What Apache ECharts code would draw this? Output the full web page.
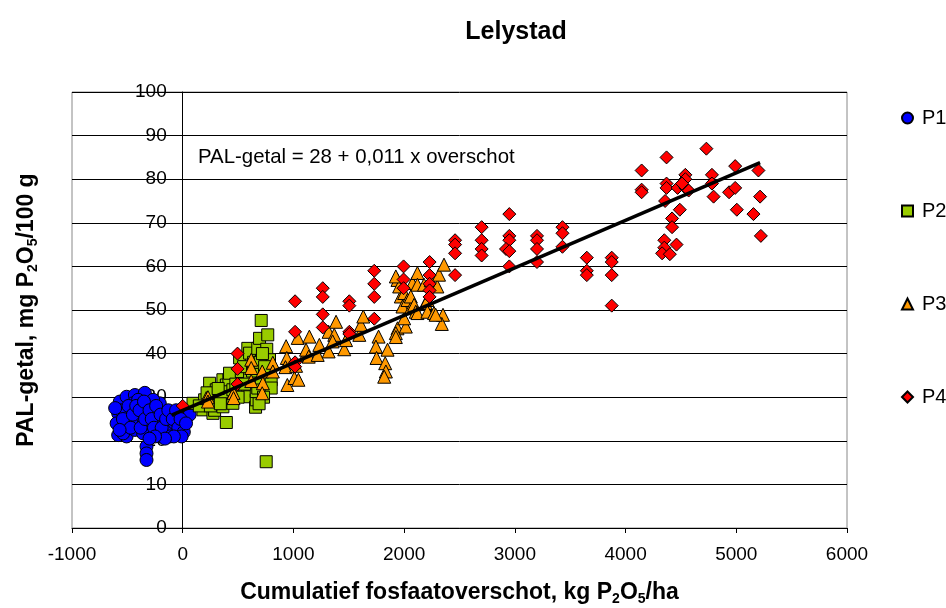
<!DOCTYPE html>
<html><head><meta charset="utf-8">
<script src="https://cdn.jsdelivr.net/npm/echarts@6/dist/echarts.min.js"></script>
<style>html,body{margin:0;padding:0;background:#fff}#c{width:946px;height:608px}</style>
</head><body><div id="c"></div>
<script>
const chartTitle = 'Lelystad';
const seriesNames = ['P1', 'P2', 'P3', 'P4'];
const equationText = 'PAL-getal = 28 + 0,011 x overschot';
const xRange = [-1000, 6000];
const yRange = [0, 100];

const p1Points = [
  [-568,29],[-507,30.1],[-432,30.5],[-448,28.6],[-583,26.3],[-597,24],[-583,21.3],[-507,21],[-522,23.6],[-477,25.5],
  [-417,26.7],[-403,24],[-432,22.5],[-342,31],[-313,28.2],[-327,26.3],[-297,24],[-358,21.7],[-327,18.7],[-327,17.1],
  [-327,15.6],[-252,26.7],[-222,24.8],[-237,22.5],[-177,24],[-162,26.3],[-207,28.6],[-102,22.9],[-72,24],[-57,21.3],
  [-117,21],[18,24.8],[3,26.3],[-267,29.4],[-403,29.4],[-538,21.7],[-27,22.9],[-117,25.5],[-372,24.8],[-462,24],
  [-207,21],[48,26.3],[63,26],[-560,27],[-540,25],[-490,28],[-470,23],[-450,26],[-420,28],[-390,27],
  [-380,23],[-350,29],[-340,25],[-300,27],[-280,25],[-260,23],[-240,28],[-200,26],[-190,23],[-150,25],
  [-130,27],[-90,25],[-60,27],[-40,23],[-20,25],[10,22],[30,24],[-10,21],[-80,21],[-160,20.5],
  [-250,21],[-300,20.5],[-570,22.5],[-610,27.5]
];
const p2Points = [
  [93,28.6],[183,27.1],[198,29.4],[243,33.2],[273,30.9],[273,26.3],[303,31.7],[288,27],[333,29.8],[363,30.1],
  [363,27.8],[363,34],[394,32.8],[394,24.2],[417,34],[423,35.5],[453,31.7],[453,28.6],[514,39],[529,35.9],
  [588,41.2],[588,32.1],[604,30.1],[604,34.4],[604,40.1],[658,27.7],[664,29.4],[664,31.3],[678,32.1],[678,41.2],
  [694,43.5],[709,34.4],[709,47.6],[759,41],[768,44.3],[768,36.3],[784,38.6],[799,34],[799,32.1],[754,15.2],
  [150,28],[220,31],[250,28],[320,32],[340,28.5],[480,33],[500,30],[550,37],[560,33],[630,36],
  [640,38],[700,38],[720,40],[740,37],[730,30],[690,28.5]
];
const p3Points = [
  [213,29.8],[228,30],[228,29],[459,31],[459,29.8],
  [619,38.6],[619,36.7],[619,33.7],[718,35.9],[724,33.2],[718,30.9],
  [814,37.9],[814,35.9],
  [934,41.7],[940,39],[928,36.9],[945,32.8],[1024,37.2],[1009,34.4],[1039,43.6],[1045,34],
  [1108,39.7],[1114,40.9],[1138,39.3],[1144,43.9],[1219,39.7],[1234,42],[1318,40.5],[1318,45],[1369,44.3],[1385,47.3],[1354,42.8],[1459,41],[1475,43.1],
  [1595,44.3],[1610,46.6],[1631,48.5],
  [1769,43.9],[1745,41.6],[1850,40.9],[1751,39],[1829,37.8],[1835,35.9],[1820,34.7],
  [1940,45.8],[1925,44.7],[1925,43.8],[2015,46.2],[2000,48.1],[2015,51.6],[1970,53.1],[1940,56.9],[1955,55.4],[1925,57.7],[2000,53.9],[1985,50.8],[2030,52.3],[2060,50.4],
  [2060,53.1],[2075,56.2],[2120,58.5],[2090,51.2],[2105,49.6],[2120,55.8],[2120,49.3],
  [2180,55.8],[2195,51.6],[2210,49.6],[2210,52.3],[2240,56.8],[2270,49.3],[2300,55.4],[2315,58.1],[2360,60.4],[2351,48.9],[2340,46.8],[2285,48.9]
];
const p4Points = [
  [0,28],[495,40],[495,36.5],[495,33],
  [1015,52],[1015,45],[1015,38],[1015,37],
  [1265,55],[1265,53],[1265,49],[1265,46],
  [1505,52],[1505,51],[1505,45],[1505,44.5],
  [1730,59],[1730,56],[1730,53],[1730,48],
  [1995,60],[1995,57],[1995,55],
  [2230,61],[2230,58],[2230,56],[2230,54.5],[2230,53],
  [2460,66],[2460,65],[2460,63],[2460,58],
  [2700,69],[2700,66],[2700,64],[2700,62.5],
  [2950,72],[2950,67],[2950,66],[2920,64],[2950,63.5],[2950,60],
  [3200,67],[3200,66],[3200,64],[3200,61],
  [3430,69],[3430,67.6],[3430,64.5],
  [3650,62],[3650,59],[3650,58],
  [3875,62],[3875,61],[3875,58],[3875,51],
  [4145,82],[4145,77.6],[4145,77],
  [4370,85],[4370,79],[4370,78],[4357,75],[4420,71],[4420,69],[4350,66],[4350,64.3],[4330,63],[4400,62.8],[4460,65],[4490,73],[4470,78],[4540,81],[4540,80],[4540,78],[4510,79],[4570,77.4],
  [4730,87],[4780,81],[4780,79],[4795,76],[4935,77],[4990,83],[4990,78],[5005,73],[5155,72],[5200,82],[5215,76],[5222,67]
];
const trendPoints = [[-100,25.9],[5215,83.8]];

const FONT = "'Liberation Sans', Arial, sans-serif";
const GRID = {left:72, right:99, top:92, bottom:80};
const plotW = 946 - GRID.left - GRID.right;
const zeroOffset = -plotW * (0 - xRange[0]) / (xRange[1] - xRange[0]);

const chart = echarts.init(document.getElementById('c'), null, {renderer:'canvas'});

function scatter(name, data, symbol, size, color) {
  return {
    name, type:'scatter', data, symbol, symbolSize:size,
    itemStyle:{color, borderColor:'#000', borderWidth:1, opacity:1},
    emphasis:{disabled:true}, z:3
  };
}
const nameRich = {
  b:{fontFamily:FONT, fontSize:23, fontWeight:'bold', color:'#000', lineHeight:26, verticalAlign:'middle'},
  s:{fontFamily:FONT, fontSize:14, fontWeight:'bold', color:'#000', lineHeight:14, verticalAlign:'bottom'}
};

const option = {
  animation:false,
  backgroundColor:'#fff',
  textStyle:{fontFamily:FONT},
  title:{text:chartTitle, left:511, top:15, textAlign:'center',
    textStyle:{fontFamily:FONT, fontSize:25, fontWeight:'bold', color:'#000'}},
  grid:{left:GRID.left, right:GRID.right, top:GRID.top, bottom:GRID.bottom, show:true,
    borderColor:'#888', borderWidth:1, backgroundColor:'transparent',
    containLabel:false, outerBoundsMode:'none'},
  legend:{
    orient:'vertical', left:896, top:103, itemGap:73, itemWidth:11, itemHeight:11,
    data:seriesNames,
    textStyle:{fontFamily:FONT, fontSize:20, lineHeight:20, color:'#000', padding:[0,0,0,4]}, selectedMode:false
  },
  xAxis:{
    type:'value', min:xRange[0], max:xRange[1], interval:1000,
    axisLine:{show:true, onZero:false, lineStyle:{color:'#000', width:1}},
    axisTick:{show:true, length:5, lineStyle:{color:'#000'}},
    axisLabel:{fontFamily:FONT, fontSize:19, color:'#000', margin:17, formatter:v => String(v)},
    splitLine:{show:false},
    name:'{b|Cumulatief fosfaatoverschot, kg P}{s|2}{b|O}{s|5}{b|/ha}',
    nameLocation:'middle', nameGap:52,
    nameTextStyle:{rich:nameRich}
  },
  yAxis:{
    type:'value', min:yRange[0], max:yRange[1], interval:10, offset:zeroOffset,
    axisLine:{show:true, onZero:false, lineStyle:{color:'#000', width:1}},
    axisTick:{show:true, length:5, lineStyle:{color:'#000'}},
    axisLabel:{fontFamily:FONT, fontSize:19, color:'#000', margin:16, formatter:v => String(v)},
    splitLine:{show:true, lineStyle:{color:'#000', width:1}},
    name:'{b|PAL-getal, mg P}{s|2}{b|O}{s|5}{b|/100 g}',
    nameLocation:'middle', nameRotate:90, nameGap:143,
    nameTextStyle:{rich:nameRich}
  },
  graphic:[
    {type:'text', left:198, top:147, style:{text:equationText, font:"20.4px 'Liberation Sans', Arial, sans-serif", fill:'#000'}, z:10}
  ],
  series:[
    scatter('P1', p1Points, 'circle', 13, '#0000FF'),
    scatter('P2', p2Points, 'rect', 12, '#99CC00'),
    scatter('P3', p3Points, 'triangle', 13, '#FF9900'),
    scatter('P4', p4Points, 'diamond', 13, '#FF0000'),
    {name:'trend', type:'line', data:trendPoints, symbol:'none', lineStyle:{color:'#000', width:3.5}, z:5, silent:true}
  ]
};
chart.setOption(option);
</script></body></html>
